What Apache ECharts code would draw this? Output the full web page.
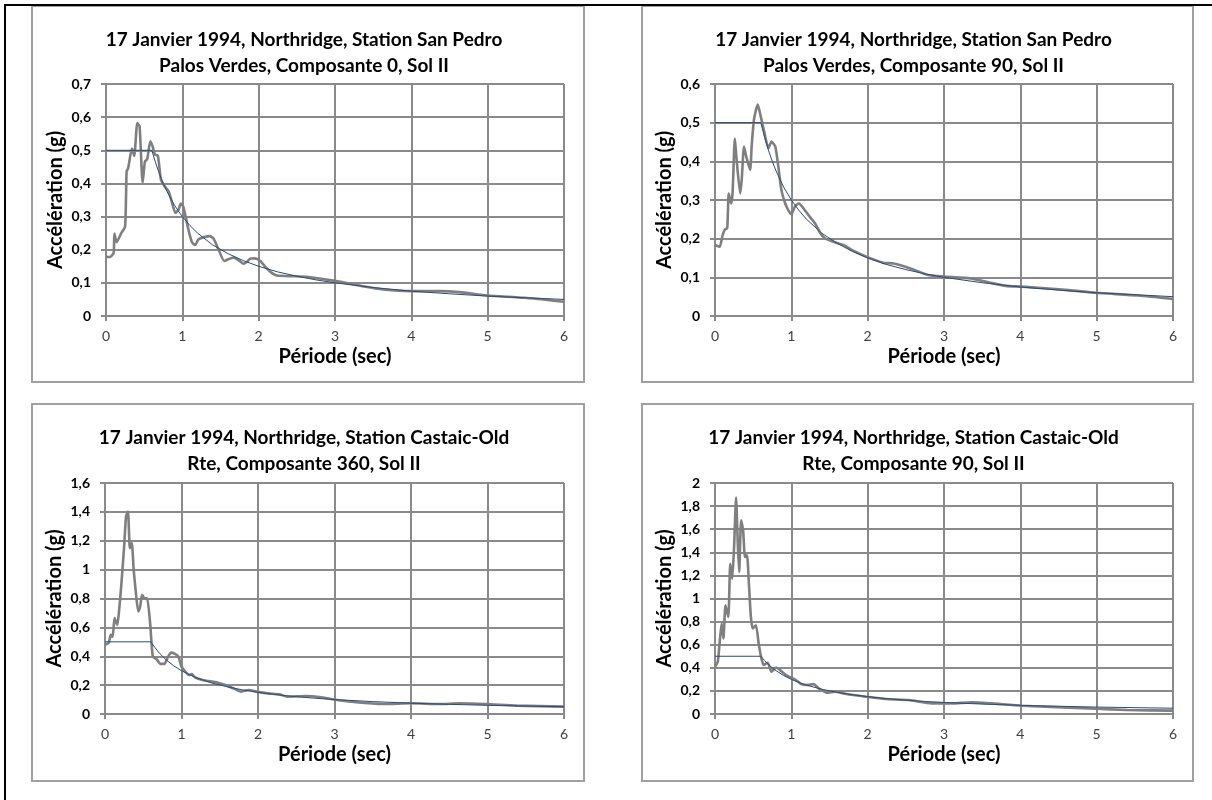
<!DOCTYPE html>
<html>
<head>
<meta charset="utf-8">
<script src="https://cdn.jsdelivr.net/npm/echarts@6/dist/echarts.min.js"></script>
<style>
  html, body { margin: 0; padding: 0; background: #fff; }
  #chart { width: 1212px; height: 800px; }
</style>
</head>
<body>
<div id="chart"></div>
<script>
// Spectres de réponse (période en s, accélération en g) — séisme de Northridge, 17/01/1994
const sanPedro0 = [[0,0.178],[0.05,0.178],[0.1,0.19],[0.11,0.249],[0.14,0.223],[0.2,0.25],[0.25,0.27],[0.27,0.436],[0.29,0.446],[0.34,0.505],[0.37,0.483],[0.41,0.582],[0.44,0.572],[0.48,0.403],[0.51,0.466],[0.54,0.473],[0.58,0.527],[0.61,0.512],[0.64,0.488],[0.68,0.483],[0.72,0.411],[0.77,0.391],[0.82,0.376],[0.86,0.346],[0.91,0.311],[0.95,0.321],[0.98,0.339],[1.01,0.331],[1.04,0.303],[1.09,0.251],[1.13,0.221],[1.17,0.214],[1.21,0.231],[1.3,0.239],[1.36,0.241],[1.41,0.233],[1.47,0.203],[1.55,0.166],[1.6,0.171],[1.67,0.176],[1.72,0.171],[1.8,0.158],[1.84,0.162],[1.89,0.173],[1.95,0.174],[2.02,0.166],[2.1,0.145],[2.17,0.13],[2.24,0.122],[2.48,0.12],[2.63,0.118],[3.0,0.106],[3.38,0.089],[3.63,0.08],[4.0,0.075],[4.38,0.075],[4.63,0.072],[5.0,0.062],[5.48,0.055],[6.0,0.043]];

const sanPedro90 = [[0,0.184],[0.06,0.179],[0.1,0.209],[0.13,0.224],[0.16,0.227],[0.18,0.317],[0.21,0.291],[0.23,0.317],[0.26,0.459],[0.28,0.412],[0.33,0.317],[0.35,0.352],[0.38,0.438],[0.41,0.412],[0.46,0.378],[0.48,0.438],[0.51,0.507],[0.56,0.547],[0.59,0.524],[0.64,0.481],[0.7,0.434],[0.74,0.451],[0.79,0.438],[0.83,0.386],[0.87,0.326],[0.92,0.291],[0.96,0.274],[1.0,0.263],[1.05,0.284],[1.1,0.291],[1.16,0.278],[1.24,0.257],[1.31,0.24],[1.38,0.214],[1.44,0.201],[1.55,0.192],[1.68,0.184],[1.81,0.169],[1.99,0.153],[2.2,0.138],[2.34,0.136],[2.42,0.132],[2.59,0.121],[2.79,0.106],[3.0,0.102],[3.35,0.097],[3.61,0.086],[3.81,0.078],[4.02,0.076],[4.63,0.067],[4.99,0.06],[5.55,0.053],[6.0,0.044]];

const castaic360 = [[0,0.479],[0.05,0.495],[0.075,0.548],[0.1,0.536],[0.125,0.664],[0.16,0.617],[0.185,0.721],[0.215,0.906],[0.25,1.16],[0.275,1.369],[0.3,1.403],[0.325,1.149],[0.35,1.184],[0.375,0.999],[0.4,0.86],[0.435,0.71],[0.46,0.745],[0.485,0.825],[0.515,0.802],[0.55,0.802],[0.59,0.629],[0.625,0.398],[0.675,0.379],[0.725,0.347],[0.775,0.347],[0.825,0.398],[0.865,0.425],[0.915,0.416],[0.96,0.398],[1.0,0.328],[1.05,0.294],[1.1,0.271],[1.135,0.277],[1.175,0.254],[1.275,0.236],[1.475,0.217],[1.575,0.201],[1.675,0.178],[1.78,0.155],[1.88,0.166],[1.98,0.155],[2.13,0.143],[2.28,0.136],[2.38,0.12],[2.63,0.125],[2.83,0.116],[3.03,0.097],[3.28,0.081],[3.63,0.069],[4.0,0.074],[4.38,0.069],[4.63,0.074],[4.98,0.069],[5.38,0.058],[6.0,0.051]];

const castaic90 = [[0,0.409],[0.036,0.452],[0.06,0.611],[0.087,0.784],[0.11,0.654],[0.138,0.942],[0.174,0.841],[0.2,1.3],[0.225,1.17],[0.25,1.447],[0.276,1.873],[0.3,1.447],[0.317,1.23],[0.342,1.677],[0.368,1.591],[0.393,1.36],[0.419,1.375],[0.444,1.13],[0.47,0.841],[0.495,0.741],[0.536,0.769],[0.572,0.611],[0.608,0.481],[0.638,0.424],[0.69,0.444],[0.74,0.366],[0.8,0.403],[0.853,0.38],[0.93,0.337],[1.06,0.294],[1.13,0.259],[1.21,0.251],[1.29,0.259],[1.36,0.222],[1.47,0.184],[1.57,0.193],[1.72,0.173],[1.98,0.15],[2.23,0.13],[2.54,0.121],[2.84,0.092],[3.1,0.092],[3.36,0.101],[3.61,0.092],[4.02,0.072],[4.63,0.055],[4.99,0.046],[5.4,0.035],[6.0,0.029]];

// Spectre de calcul, sol de classe II
const spectreSolII = [[0,0.5],[0.6,0.5],[0.65,0.462],[0.7,0.429],[0.75,0.4],[0.8,0.375],[0.9,0.333],[1.0,0.3],[1.1,0.273],[1.2,0.25],[1.4,0.214],[1.6,0.188],[1.8,0.167],[2.0,0.15],[2.25,0.133],[2.5,0.12],[2.75,0.109],[3.0,0.1],[3.5,0.086],[4.0,0.075],[4.5,0.067],[5.0,0.06],[5.5,0.055],[6.0,0.05]];

const titres = [
  '17 Janvier 1994, Northridge, Station San Pedro\nPalos Verdes, Composante 0, Sol II',
  '17 Janvier 1994, Northridge, Station San Pedro\nPalos Verdes, Composante 90, Sol II',
  '17 Janvier 1994, Northridge, Station Castaic-Old\nRte, Composante 360, Sol II',
  '17 Janvier 1994, Northridge, Station Castaic-Old\nRte, Composante 90, Sol II'
];
const series = [sanPedro0, sanPedro90, castaic360, castaic90];
const yMax = [0.7, 0.6, 1.6, 2];
const yStep = [0.1, 0.1, 0.2, 0.2];

// Panel frames and plot areas (pixels)
const frames = [
  { x: 32, y: 6, w: 552, h: 376 },
  { x: 642, y: 6, w: 551, h: 376 },
  { x: 32, y: 404, w: 552, h: 377 },
  { x: 642, y: 404, w: 551, h: 377 }
];
const plots = [
  { left: 106, top: 84, width: 458, height: 232 },
  { left: 715, top: 84, width: 458, height: 232 },
  { left: 105, top: 483, width: 459, height: 231 },
  { left: 715, top: 483, width: 458, height: 231 }
];

const FONT = 'Lato, "Open Sans", sans-serif';
const GRID = '#8a8a8a';
const fmt = v => String(Math.round(v * 10) / 10).replace('.', ',');

const option = {
  animation: false,
  backgroundColor: '#ffffff',
  title: titres.map((t, i) => ({
    text: t,
    left: frames[i].x + frames[i].w / 2 - 4,
    top: frames[i].y + 21,
    textAlign: 'center',
    padding: 0,
    textStyle: { fontFamily: FONT, fontWeight: 'bold', fontSize: 19, lineHeight: 26, color: '#000' }
  })),
  grid: plots.map(p => Object.assign({ outerBoundsMode: 'none', containLabel: false }, p)),
  xAxis: plots.map((p, i) => ({
    type: 'value', gridIndex: i, min: 0, max: 6, interval: 1,
    name: 'Période (sec)', nameLocation: 'middle', nameGap: 31, nameMoveOverlap: false,
    nameTextStyle: { fontFamily: FONT, fontWeight: 'bold', fontSize: 20, color: '#000' },
    axisLine: { show: true, onZero: false, lineStyle: { color: GRID, width: 2 } },
    axisTick: { show: true, length: 5, lineStyle: { color: GRID, width: 2 } },
    axisLabel: { margin: 13, fontFamily: FONT, fontSize: 14, color: '#404040', formatter: fmt },
    splitLine: { show: true, lineStyle: { color: GRID, width: 2 } }
  })),
  yAxis: plots.map((p, i) => ({
    type: 'value', gridIndex: i, min: 0, max: yMax[i], interval: yStep[i],
    name: 'Accélération (g)', nameLocation: 'middle', nameGap: 40, nameRotate: 90, nameMoveOverlap: false,
    nameTextStyle: { fontFamily: FONT, fontWeight: 'bold', fontSize: 20, color: '#000' },
    axisLine: { show: true, onZero: false, lineStyle: { color: GRID, width: 2 } },
    axisTick: { show: true, length: 5, lineStyle: { color: GRID, width: 2 } },
    axisLabel: { margin: 15, fontFamily: FONT, fontWeight: 'bold', fontSize: 14, color: '#000', formatter: fmt },
    splitLine: { show: true, lineStyle: { color: GRID, width: 2 } }
  })),
  series: [].concat(
    series.map((d, i) => ({
      type: 'line', xAxisIndex: i, yAxisIndex: i, data: d, smooth: 0.2,
      showSymbol: false, silent: true, z: 3,
      lineStyle: { color: '#7f7f7f', width: 2.6 }
    })),
    series.map((d, i) => ({
      type: 'line', xAxisIndex: i, yAxisIndex: i, data: spectreSolII, smooth: false,
      showSymbol: false, silent: true, z: 4,
      lineStyle: { color: '#2e4a78', width: 1 }
    }))
  ),
  graphic: [].concat(
    frames.map(f => ({
      type: 'rect', silent: true, z: 0,
      shape: { x: f.x, y: f.y, width: f.w, height: f.h },
      style: { fill: null, stroke: '#a0a0a0', lineWidth: 2 }
    })),
    [
      { type: 'line', silent: true, z: 10, shape: { x1: 4, y1: 5, x2: 1212, y2: 5 }, style: { stroke: '#000', lineWidth: 2 } },
      { type: 'line', silent: true, z: 10, shape: { x1: 5, y1: 4, x2: 5, y2: 800 }, style: { stroke: '#000', lineWidth: 2 } }
    ]
  )
};

const chart = echarts.init(document.getElementById('chart'), null, { renderer: 'canvas' });
chart.setOption(option);
</script>
</body>
</html>
